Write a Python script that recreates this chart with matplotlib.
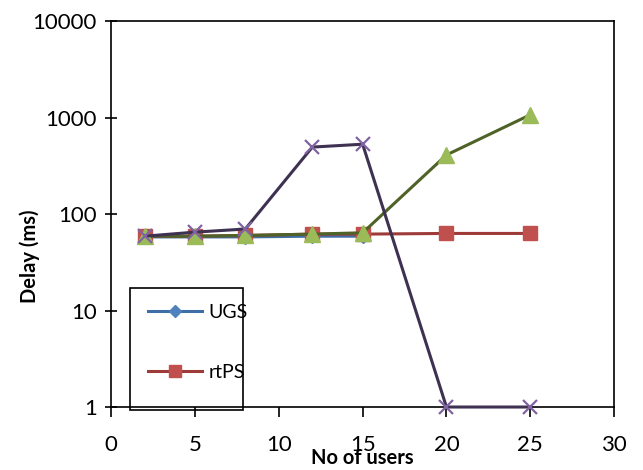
import matplotlib
matplotlib.use("Agg")
import matplotlib.pyplot as plt
from matplotlib.patches import Rectangle

users = [2, 5, 8, 12, 15, 20, 25]
ugs = [58, 58, 58, 59, 59]
rtps = [59, 59, 60, 62, 62, 63, 63]
nrtps = [59, 59, 60, 62, 64, 410, 1070]
be = [59, 65, 70, 495, 530, 1, 1]
y_ticks = [1, 10, 100, 1000, 10000]
x_ticks = [0, 5, 10, 15, 20, 25, 30]

plt.rcParams['font.family'] = ['Lato', 'DejaVu Sans']

fig = plt.figure(figsize=(6.43, 4.70), dpi=100)
ax = fig.add_axes([0.173, 0.134, 0.782, 0.821])

l1, = ax.plot(users[:len(ugs)], ugs, color='#3E6EA8', lw=2.2, marker='D', ms=7,
              mfc='#4F81BD', mec='#4F81BD', clip_on=False, zorder=3)
l2, = ax.plot(users, rtps, color='#9E3B38', lw=2.2, marker='s', ms=10,
              mfc='#C0504D', mec='#C0504D', clip_on=False, zorder=4)
l3, = ax.plot(users, nrtps, color='#4F6228', lw=2.2, marker='^', ms=11,
              mfc='#9BBB59', mec='#9BBB59', clip_on=False, zorder=5)
l4, = ax.plot(users, be, color='#3F3151', lw=2.2, marker='x', ms=10, mew=1.6,
              mec='#8064A2', clip_on=False, zorder=6)

ax.set_yscale('log')
ax.set_ylim(1, 10000)
ax.set_xlim(0, 30)
ax.set_yticks(y_ticks)
ax.set_yticklabels([str(v) for v in y_ticks])
ax.minorticks_off()
ax.set_xticks(x_ticks)
ax.tick_params(axis='y', direction='inout', length=9, width=1.2, labelsize=16, pad=6)
ax.tick_params(axis='x', direction='out', length=7, width=1.2, labelsize=16, pad=13)
for s in ax.spines.values():
    s.set_linewidth(1.2)

fig.text(0.046, 0.455, 'Delay (ms)', rotation=90, fontsize=14.5, fontweight='bold',
         ha='center', va='center')
fig.text(0.563, 0.004, 'No of users', fontsize=14.5, fontweight='bold',
         ha='center', va='bottom')

fig.patches.append(Rectangle((0.202, 0.128), 0.176, 0.260, transform=fig.transFigure,
                             fill=False, ec='black', lw=1.2, zorder=10))
fig.legend([l1, l2], ['UGS', 'rtPS'], loc='upper left', bbox_to_anchor=(0.203, 0.39),
           frameon=False, fontsize=14, handlelength=2.8, labelspacing=2.2,
           handletextpad=0.3, markerscale=0.9)

fig.savefig('out.png', dpi=100)
